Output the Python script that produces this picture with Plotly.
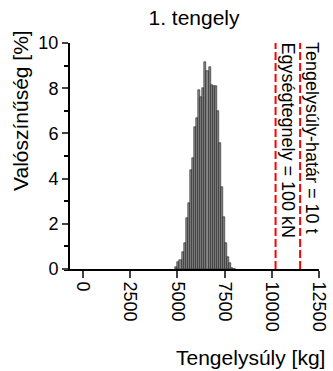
import plotly.graph_objects as go

# Data
bin_start = 4890
bin_width = 110
probabilities = [0.07, 0.32, 0.4, 0.77, 1.14, 2.25, 2.94, 4.39, 4.9, 6.3, 6.68, 7.93,
                 7.63, 8.0, 9.18, 8.74, 8.96, 8.15, 8.08, 8.08, 6.97, 5.57, 3.65, 2.32,
                 1.14, 0.55, 0.25, 0.05, 0.02]
bin_centers = [bin_start + bin_width * (i + 0.5) for i in range(len(probabilities))]
limit_unit_axle = 10200      # 100 kN
limit_axle_load = 11500
x_ticks = [0, 2500, 5000, 7500, 10000, 12500]
y_ticks = [0, 2, 4, 6, 8, 10]

FONT = "Liberation Sans, Arial, sans-serif"

fig = go.Figure()
fig.add_trace(go.Bar(
    x=bin_centers, y=probabilities, width=bin_width,
    marker=dict(color="#8a8a8a", line=dict(color="black", width=0.5)),
    showlegend=False,
))

for xv in [limit_unit_axle, limit_axle_load]:
    fig.add_trace(go.Scatter(
        x=[xv, xv], y=[0, 10], mode="lines",
        line=dict(color="#ff0000", width=2, dash="8px,3px"),
        showlegend=False, hoverinfo="skip",
    ))

fig.add_annotation(x=limit_unit_axle, y=10, xref="x", yref="y",
                   text="Egységtegnely = 100 kN", textangle=90, showarrow=False,
                   xanchor="left", yanchor="top", yshift=3, xshift=0,
                   font=dict(size=18, color="black", family=FONT))
fig.add_annotation(x=limit_axle_load, y=10, xref="x", yref="y",
                   text="Tengelysúly-határ = 10 t", textangle=90, showarrow=False,
                   xanchor="left", yanchor="top", yshift=3, xshift=0,
                   font=dict(size=18, color="black", family=FONT))

# axis titles as annotations
fig.add_annotation(x=(250 - 64) / 255, y=-(357 - 269) / 226, xref="paper", yref="paper",
                   text="Tengelysúly [kg]", showarrow=False,
                   xanchor="center", yanchor="middle",
                   font=dict(size=21, color="black", family=FONT))
fig.add_annotation(x=-(64 - 20) / 255, y=(269 - 111) / 226, xref="paper", yref="paper",
                   text="Valószínűség [%]", textangle=-90, showarrow=False,
                   xanchor="center", yanchor="middle",
                   font=dict(size=21, color="black", family=FONT))

fig.update_layout(
    width=333, height=371,
    margin=dict(l=64, r=14, t=43, b=102, autoexpand=False),
    plot_bgcolor="white", paper_bgcolor="white",
    font=dict(family=FONT, color="black"),
    bargap=0,
    title=dict(text="1. tengely", x=(194) / 333, xanchor="center",
               y=1 - 18 / 371, yanchor="middle", yref="container",
               font=dict(size=21, color="black", family=FONT)),
    xaxis=dict(range=[-1006, 12500], tickvals=x_ticks, ticktext=[str(v) for v in x_ticks],
               tickangle=90, ticks="outside", ticklen=7, tickwidth=1.5,
               showline=True, linecolor="black", linewidth=2, automargin=False,
               showgrid=False, zeroline=False,
               tickfont=dict(size=18, family=FONT, color="black")),
    yaxis=dict(range=[0, 10], tickvals=y_ticks, ticks="outside", ticklen=6, tickwidth=1.5,
               anchor="free", position=5 / 255, automargin=False,
               showline=True, linecolor="black", linewidth=2,
               showgrid=False, zeroline=False,
               minor=dict(dtick=1, ticks="outside", ticklen=4, tickwidth=1.5, tickcolor="black"),
               tickfont=dict(size=18, family=FONT, color="black")),
)

fig.write_html("out.html", config={"displayModeBar": False},
               post_script="document.body.style.margin='0';document.body.style.overflow='hidden';")
